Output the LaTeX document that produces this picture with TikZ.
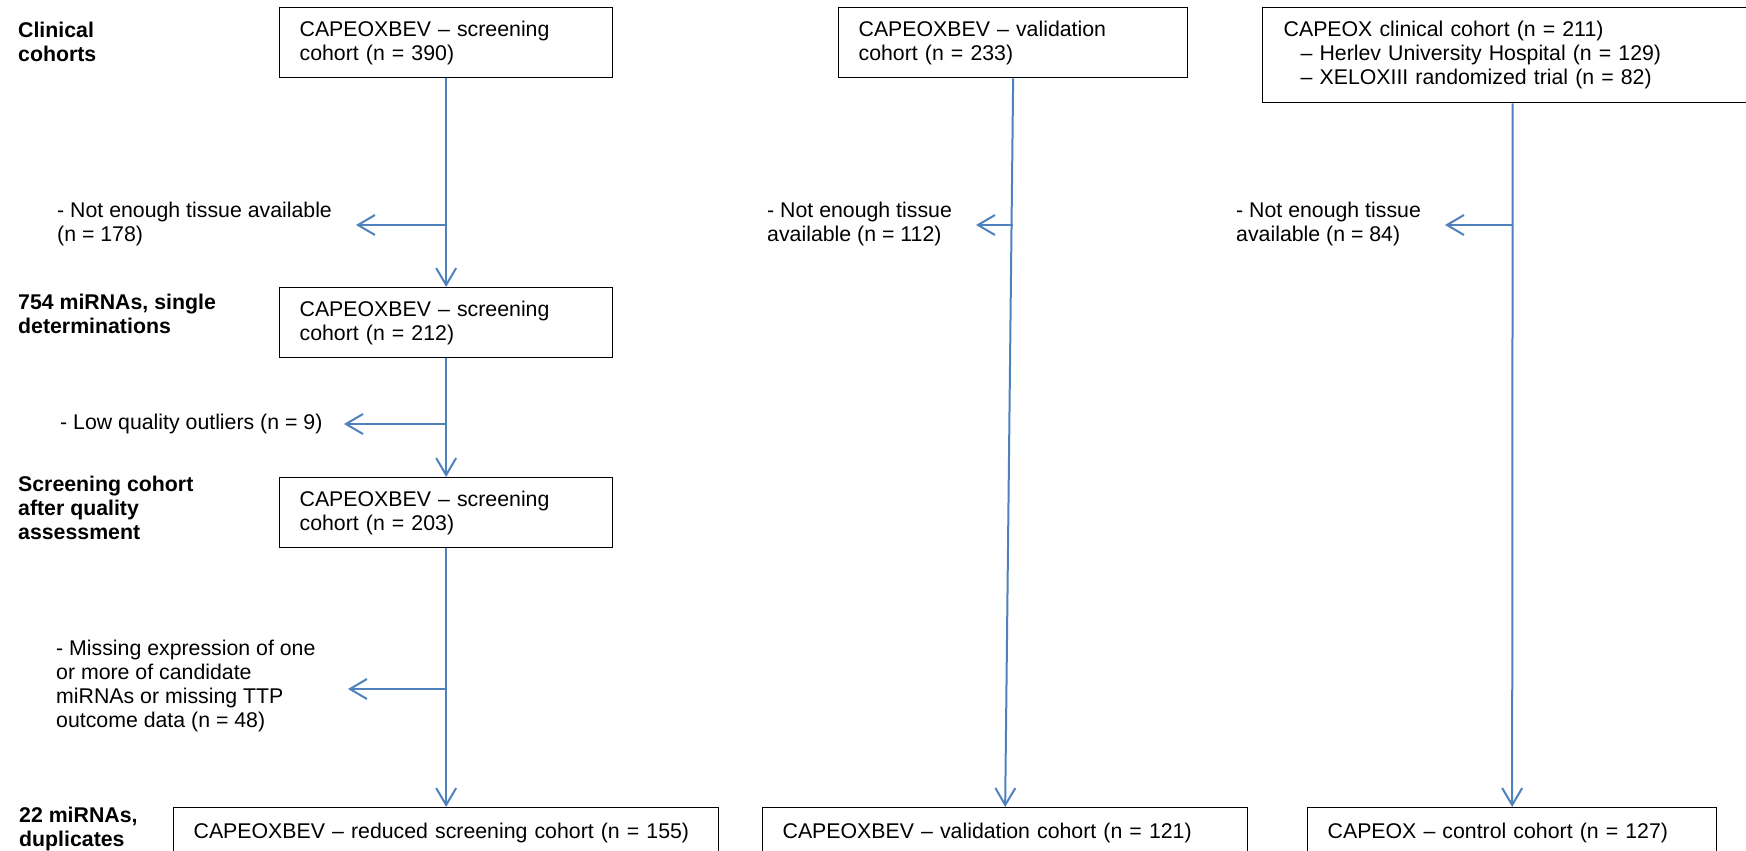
\documentclass[tikz,border=0pt]{standalone}
\usepackage{fontspec}
\setmainfont{Liberation Sans}
\usetikzlibrary{arrows.meta}
\definecolor{flowblue}{RGB}{79,129,189}
\newcommand{\cohortfont}{\fontsize{21.3}{24}\selectfont}
\tikzset{
    cohort/.style={draw=black, line width=1.3pt, anchor=north west,
        align=left, inner xsep=20pt, inner ysep=0pt},
    stage/.style={anchor=west, align=left, inner sep=0pt,
        font=\cohortfont\bfseries},
    excl/.style={anchor=west, align=left, inner sep=0pt},
    flow/.style={draw=flowblue, line width=2pt,
        -{Straight Barb[length=17pt, width=20pt]}},
}

\begin{document}
\begin{tikzpicture}[x=1pt, y=-1pt, font=\cohortfont]
    \useasboundingbox (0,0) rectangle (1746,851);

    \node[stage] (lclin) at (18,42) {Clinical\\cohorts};
    \node[stage] (lsingle) at (18,314) {754 miRNAs, single\\determinations};
    \node[stage] (lquality) at (18,508) {Screening cohort\\after quality\\assessment};
    \node[stage] (ldup) at (19,829) {22 miRNAs,\\duplicates};

    \node[
        cohort,
        text width=293pt,
        minimum height=70pt]
        (scr390) at (279,7) {CAPEOXBEV – screening\\cohort (n = 390)};
    \node[
        cohort,
        text width=293pt,
        minimum height=70pt]
        (scr212) at (279,287) {CAPEOXBEV – screening\\cohort (n = 212)};
    \node[
        cohort,
        text width=293pt,
        minimum height=70pt]
        (scr203) at (279,477) {CAPEOXBEV – screening\\cohort (n = 203)};
    \node[
        cohort,
        text width=505pt,
        minimum height=50pt]
        (scr155) at (173,807) {CAPEOXBEV – reduced screening cohort (n = 155)};

    \node[
        cohort,
        text width=309pt,
        minimum height=70pt]
        (val233) at (838,7) {CAPEOXBEV – validation\\cohort (n = 233)};
    \node[
        cohort,
        text width=445pt,
        minimum height=50pt]
        (val121) at (762,807) {CAPEOXBEV – validation cohort (n = 121)};

    \node[
        cohort,
        inner xsep=21pt,
        text width=458pt,
        minimum height=95pt]
        (ctl211) at (1262,7) {CAPEOX clinical cohort (n = 211)\\
        \hspace*{17pt}– Herlev University Hospital (n = 129)\\
        \hspace*{17pt}– XELOXIII randomized trial (n = 82)};
    \node[
        cohort,
        text width=369pt,
        minimum height=50pt]
        (ctl127) at (1307,807) {CAPEOX – control cohort (n = 127)};

    \node[excl] (e178) at (57,224) {- Not enough tissue available\\(n = 178)};
    \node[excl] (e9) at (60,424) {- Low quality outliers (n = 9)};
    \node[excl] (e48) at (56,686) {- Missing expression of one\\or more of candidate\\miRNAs or missing TTP\\outcome data (n = 48)};
    \node[excl] (e112) at (767,224) {- Not enough tissue\\available (n = 112)};
    \node[excl] (e84) at (1236,224) {- Not enough tissue\\available (n = 84)};

    \coordinate (t178) at (356,225);
    \coordinate (t9) at (344,424);
    \coordinate (t48) at (348,689);
    \coordinate (t112) at (976,225);
    \coordinate (t84) at (1445,225);

    \draw[flow] (scr390.south) -- (scr212.north);
    \draw[flow] (scr212.south) -- (scr203.north);
    \draw[flow] (scr203.south) -- (scr155.north);
    \draw[flow] (val233.south) -- (val121.north);
    \draw[flow] (ctl211.south) -- (ctl127.north);

    \draw[flow] (t178 -| scr390.south) -- (t178);
    \draw[flow] (t9 -| scr212.south) -- (t9);
    \draw[flow] (t48 -| scr203.south) -- (t48);
    \draw[flow] (t112 -| val233.south) -- (t112);
    \draw[flow] (t84 -| ctl211.south) -- (t84);
\end{tikzpicture}
\end{document}
